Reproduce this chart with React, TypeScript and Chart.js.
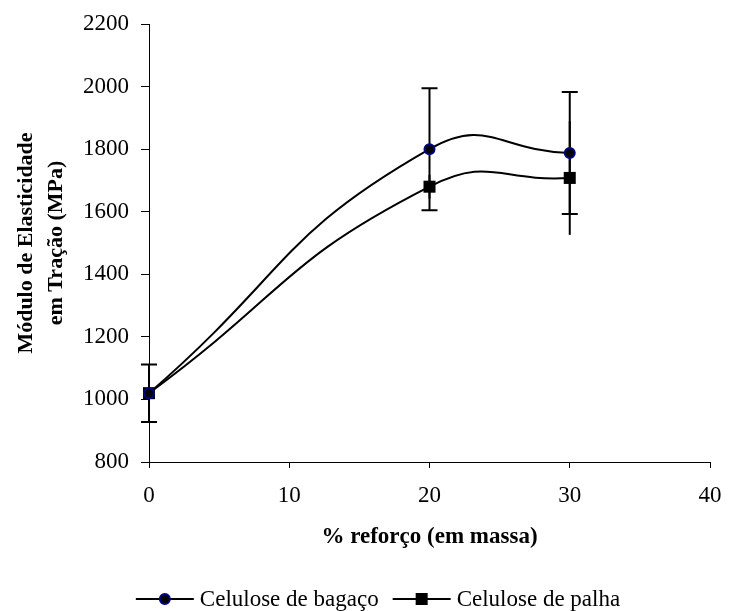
import React, { useEffect, useRef } from 'react';
import { Chart, registerables } from 'chart.js';

Chart.register(...registerables);

// ---- data ----
const reinforcement = [0, 20, 30];
const bagacoModulus = [1020, 1800, 1788];
const bagacoError = [92, 195, 195];
const palhaModulus = [1020, 1680, 1708];
const palhaError = [60, 38, 182];
const seriesNames = ['Celulose de bagaço', 'Celulose de palha'];
const xTickValues = [0, 10, 20, 30, 40];
const yTickValues = [800, 1000, 1200, 1400, 1600, 1800, 2000, 2200];
const xTitle = '% reforço (em massa)';
const yTitle = ['Módulo de Elasticidade', 'em Tração (MPa)'];

const FONT = "'Liberation Serif', 'Times New Roman', serif";
const errorSets = [bagacoError, palhaError];
const capSets = [true, false];

const errorBarPlugin = {
  id: 'errorBars',
  beforeDatasetsDraw(chart: any) {
    const { ctx } = chart;
    const xs = chart.scales.x;
    const ys = chart.scales.y;
    ctx.save();
    ctx.strokeStyle = '#000';
    ctx.lineWidth = 2;
    chart.data.datasets.forEach((ds: any, i: number) => {
      const errs = errorSets[i];
      ds.data.forEach((pt: any, j: number) => {
        const px = xs.getPixelForValue(pt.x);
        const top = ys.getPixelForValue(pt.y + errs[j]);
        const bot = ys.getPixelForValue(pt.y - errs[j]);
        ctx.beginPath();
        ctx.moveTo(px, top);
        ctx.lineTo(px, bot);
        if (capSets[i]) {
          ctx.moveTo(px - 8, top);
          ctx.lineTo(px + 8, top);
          ctx.moveTo(px - 8, bot);
          ctx.lineTo(px + 8, bot);
        }
        ctx.stroke();
      });
    });
    ctx.restore();
  },
};

const legendPlugin = {
  id: 'excelLegend',
  afterDraw(chart: any) {
    const { ctx } = chart;
    ctx.save();
    ctx.font = `23px ${FONT}`;
    const lineW = 58;
    const gap = 6;
    const itemGap = 14;
    const widths = seriesNames.map((n) => ctx.measureText(n).width);
    const total = widths.reduce((a, b) => a + b, 0) + seriesNames.length * (lineW + gap) + itemGap;
    let x = 378 - total / 2;
    const y = 599;
    seriesNames.forEach((name, i) => {
      ctx.strokeStyle = '#000';
      ctx.lineWidth = 2;
      ctx.beginPath();
      ctx.moveTo(x, y);
      ctx.lineTo(x + lineW, y);
      ctx.stroke();
      const cx = x + lineW / 2;
      if (i === 0) {
        ctx.beginPath();
        ctx.arc(cx, y, 5, 0, Math.PI * 2);
        ctx.fillStyle = '#000';
        ctx.fill();
        ctx.strokeStyle = '#000080';
        ctx.lineWidth = 2;
        ctx.stroke();
      } else {
        ctx.fillStyle = '#000';
        ctx.fillRect(cx - 6, y - 6, 12, 12);
      }
      ctx.fillStyle = '#000';
      ctx.textBaseline = 'alphabetic';
      ctx.textAlign = 'left';
      ctx.fillText(name, x + lineW + gap, y + 7);
      x += lineW + gap + widths[i] + itemGap;
    });
    ctx.restore();
  },
};

export default function App() {
  const canvasRef = useRef<HTMLCanvasElement | null>(null);

  useEffect(() => {
    const canvas = canvasRef.current;
    if (!canvas) return;
    const chart = new Chart(canvas, {
      type: 'line',
      data: {
        datasets: [
          {
            label: seriesNames[0],
            data: reinforcement.map((x, i) => ({ x, y: bagacoModulus[i] })),
            borderColor: '#000',
            borderWidth: 2,
            tension: 0.5,
            pointStyle: 'circle',
            pointRadius: 5,
            pointBorderWidth: 2,
            pointBackgroundColor: '#000',
            pointBorderColor: '#000080',
            clip: false as any,
          },
          {
            label: seriesNames[1],
            data: reinforcement.map((x, i) => ({ x, y: palhaModulus[i] })),
            borderColor: '#000',
            borderWidth: 2,
            tension: 0.5,
            pointStyle: 'rect',
            pointRadius: 8.5,
            pointBorderWidth: 0,
            pointBackgroundColor: '#000',
            pointBorderColor: '#000',
            clip: false as any,
          },
        ],
      },
      options: {
        responsive: false,
        animation: false,
        devicePixelRatio: 1,
        layout: { padding: { left: 0, right: 19, top: 24, bottom: 0 } },
        plugins: {
          legend: { display: false },
          tooltip: { enabled: false },
        },
        scales: {
          x: {
            type: 'linear',
            min: 0,
            max: 40,
            afterBuildTicks: (s: any) => {
              s.ticks = xTickValues.map((v) => ({ value: v }));
            },
            afterFit: (s: any) => {
              s.height = 149;
              s.paddingLeft = 0;
              s.paddingRight = 0;
            },
            grid: {
              drawOnChartArea: false,
              drawTicks: true,
              tickLength: 6,
              tickColor: '#000',
              color: '#000',
            },
            border: { display: true, color: '#000', width: 1 },
            ticks: {
              color: '#000',
              padding: 14,
              maxRotation: 0,
              font: { family: FONT, size: 23 },
              callback: (v: any) => String(v),
            },
            title: {
              display: true,
              text: xTitle,
              color: '#000',
              font: { family: FONT, size: 23, weight: 'bold' },
              padding: { top: 0, bottom: 60 },
            },
          },
          y: {
            type: 'linear',
            min: 800,
            max: 2200,
            afterBuildTicks: (s: any) => {
              s.ticks = yTickValues.map((v) => ({ value: v }));
            },
            afterFit: (s: any) => {
              s.width = 149;
              s.paddingTop = 0;
              s.paddingBottom = 0;
            },
            grid: {
              drawOnChartArea: false,
              drawTicks: true,
              tickLength: 8,
              tickColor: '#000',
              color: '#000',
            },
            border: { display: true, color: '#000', width: 1 },
            ticks: {
              color: '#000',
              padding: 12,
              font: { family: FONT, size: 23 },
              callback: (v: any) => String(v),
            },
            title: {
              display: true,
              text: yTitle,
              color: '#000',
              font: { family: FONT, size: 22, weight: 'bold', lineHeight: 1.36 },
              padding: { top: 11, bottom: 0 },
            },
          },
        },
      },
      plugins: [errorBarPlugin, legendPlugin],
    });
    return () => chart.destroy();
  }, []);

  return (
    <div style={{ position: 'absolute', left: 0, top: 0, width: 729, height: 611, background: '#fff' }}>
      <canvas ref={canvasRef} width={729} height={611} style={{ width: 729, height: 611, display: 'block' }} />
    </div>
  );
}
